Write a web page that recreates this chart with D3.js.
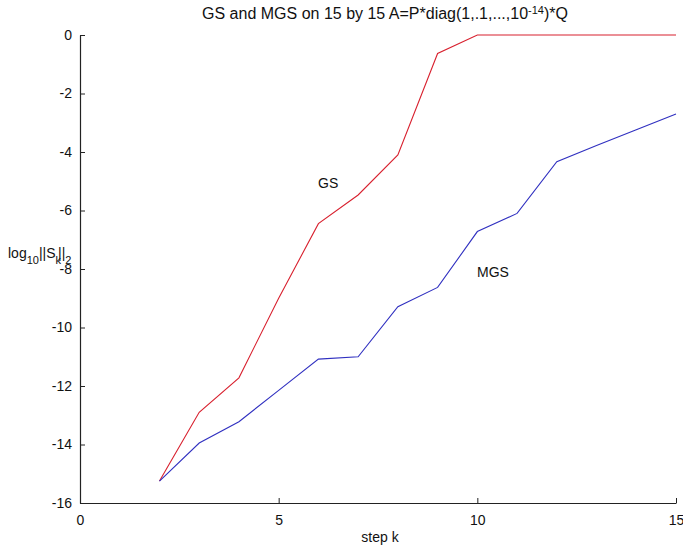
<!DOCTYPE html>
<html><head><meta charset="utf-8">
<script src="https://cdn.jsdelivr.net/npm/d3@7/dist/d3.min.js"></script>
<style>
body{margin:0;background:#fff;}
svg{display:block;font-family:"Liberation Sans",Arial,sans-serif;}
</style></head>
<body><svg id="c" width="683" height="545"></svg>
<script>
const steps = [2,3,4,5,6,7,8,9,10,11,12,13,14,15];
const gsValues = [-15.25,-12.9,-11.72,-9.0,-6.45,-5.47,-4.1,-0.63,0,0,0,0,0,0];
const mgsValues = [-15.25,-13.95,-13.22,-12.15,-11.08,-11.0,-9.29,-8.63,-6.72,-6.1,-4.33,-3.78,-3.24,-2.7];
const xTicks = [0,5,10,15];
const yTicks = [0,-2,-4,-6,-8,-10,-12,-14,-16];

const svg = d3.select("#c");
const x = d3.scaleLinear().domain([0,15]).range([80,676]);
const y = d3.scaleLinear().domain([-16,0]).range([503,35]);

// axes
const xa = svg.append("g").attr("transform","translate(0,503)")
  .call(d3.axisBottom(x).tickValues(xTicks).tickSizeInner(-5).tickSizeOuter(0).tickPadding(12));
const ya = svg.append("g").attr("transform","translate(80,0)")
  .call(d3.axisLeft(y).tickValues(yTicks).tickSizeInner(-5).tickSizeOuter(0).tickPadding(8).tickFormat(d=>d===0?"0":"-"+Math.abs(d)));
[xa,ya].forEach(a=>{
  a.select(".domain").attr("stroke","#222").attr("stroke-width",1.2);
  a.selectAll(".tick line").attr("stroke","#222");
  a.selectAll("text").attr("font-size",14).attr("fill","#111").attr("font-family","Liberation Sans, Arial, sans-serif");
});

const line = d3.line().x((d,i)=>x(steps[i])).y(d=>y(d));
svg.append("path").datum(gsValues).attr("d",line).attr("fill","none").attr("stroke","#d8202e").attr("stroke-width",1.1);
svg.append("path").datum(mgsValues).attr("d",line).attr("fill","none").attr("stroke","#3030c0").attr("stroke-width",1.1);

// labels
svg.append("text").attr("x",318).attr("y",188).attr("font-size",14).attr("fill","#111").text("GS");
svg.append("text").attr("x",477).attr("y",277).attr("font-size",14).attr("fill","#111").text("MGS");

// title
const t = svg.append("text").attr("x",385).attr("y",19).attr("text-anchor","middle").attr("font-size",16).attr("fill","#111");
t.append("tspan").text("GS and MGS on 15 by 15 A=P*diag(1,.1,...,10");
t.append("tspan").attr("font-size",11).attr("dy",-5).text("-14");
t.append("tspan").attr("dy",5).text(")*Q");

// x label
svg.append("text").attr("x",380).attr("y",542).attr("text-anchor","middle").attr("font-size",14).attr("fill","#111").text("step k");

// y label (horizontal, MATLAB-style)
const yl = svg.append("text").attr("x",8).attr("y",258).attr("font-size",14).attr("fill","#111");
yl.append("tspan").text("log");
yl.append("tspan").attr("font-size",11).attr("dy",6).text("10");
yl.append("tspan").attr("dy",-6).text("||S");
yl.append("tspan").attr("font-size",11).attr("dy",6).text("k");
yl.append("tspan").attr("dy",-6).attr("dx",-3).text("||");
yl.append("tspan").attr("font-size",11).attr("dy",6).text("2");
</script></body></html>
